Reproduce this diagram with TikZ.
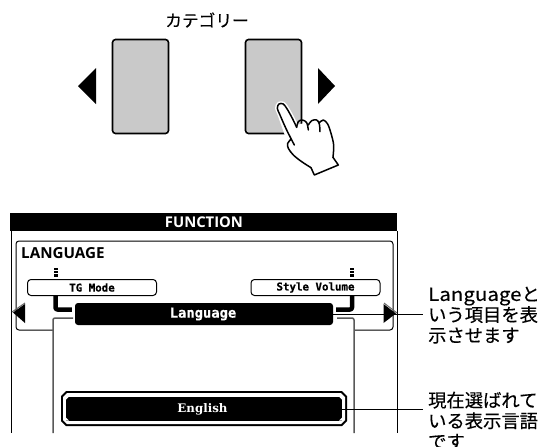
\documentclass[tikz,border=0pt]{standalone}
\usepackage{fontspec}
\setmainfont[FakeBold=0.35]{Noto Sans CJK JP}
\newfontfamily\latinwide[FakeStretch=1.12,FakeBold=0.35]{Noto Sans CJK JP}
\newfontfamily\headfont{Open Sans}
\newfontfamily\lcd[FakeBold=0.4]{DejaVu Sans Mono}
\newfontfamily\lcdserif{DejaVu Serif}
\tikzset{
  keypad/.style={draw=black,line width=1.6pt,fill=black!21,rounded corners=3pt,minimum width=56pt,minimum height=94pt,inner sep=0pt},
  softkey/.style={draw=black,line width=1pt,fill=white,rounded corners=3.5pt,minimum width=129pt,minimum height=16pt,inner sep=0pt,font=\lcd\bfseries\fontsize{10.8}{11}\selectfont},
  thinrule/.style={line width=1pt,draw=black},
  greyrule/.style={line width=1.5pt,draw=black!65},
  note/.style={align=left,anchor=north west,inner sep=0pt,font=\fontsize{18.3}{20.6}\selectfont},
  leader/.style={line width=.8pt,draw=black},
  hook/.style={line width=4.5pt,draw=black,line join=round},
  wtext/.style={text=white,inner sep=0pt}
}
\begin{document}
\begin{tikzpicture}[x=1pt,y=-1pt]
\useasboundingbox (0,0) rectangle (542,447);
\fill[white] (0,0) rectangle (542,447);
% top
\node[inner sep=0pt,font=\fontsize{16.7}{18}\selectfont] (cat) at (207,20) {カテゴリー};
\node[keypad] (kl) at (140.5,86.5) {};
\node[keypad] (kr) at (273.5,86.5) {};
\fill[black] (78,86) -- (96,68) -- (96,104) -- cycle;
\fill[black] (335,86) -- (318,68) -- (318,104) -- cycle;
% hand
\begin{scope}[shift={(255,100)},x=0.3333pt,y=-0.3333pt]
\path[fill=white,draw=white,line width=4.5pt,line join=round]
  plot[smooth,tension=.55] coordinates {(98,110)(75,45)(67,25)(72,12)(85,12)(97,28)(112,55)(125,82)}
  -- (193,65) -- plot[smooth,tension=.5] coordinates {(205,60)(218,72)(228,100)(236,135)(234,172)}
  -- (250,195) -- (178,225) -- plot[smooth,tension=.5] coordinates {(168,203)(140,185)(115,165)(100,145)(98,130)(108,118)} -- cycle;
\begin{scope}[line width=1.5pt,draw=black,line join=round,line cap=round]
\draw plot[smooth,tension=.55] coordinates {(118,135)(95,90)(75,45)(67,25)(72,12)(85,12)(97,28)(112,55)(125,82)};
\draw plot[smooth,tension=.6] coordinates {(125,82)(130,65)(142,60)(155,68)(160,90)};
\draw plot[smooth,tension=.6] coordinates {(160,75)(170,62)(185,60)(193,72)(195,95)};
\draw plot[smooth,tension=.55] coordinates {(193,68)(205,60)(218,72)(228,100)(236,135)(234,172)};
\draw (234,172) -- (250,195) -- (178,225) -- (168,203);
\draw plot[smooth,tension=.55] coordinates {(168,203)(140,185)(115,165)(100,145)(98,130)(108,118)};
\end{scope}
\end{scope}
% screen
\draw[thinrule] (11,231) -- (11,433);
\draw[thinrule] (397,231) -- (397,433);
\node[fill=black,minimum width=387pt,minimum height=18pt,inner sep=0pt] (bar) at (203.5,222) {};
\node[wtext,font=\headfont\bfseries\fontsize{14.8}{16}\selectfont] (fn) at (204,222) {FUNCTION};
\draw[thinrule,rounded corners=3pt] (53,330) -- (16,330) -- (16,241) -- (393,241) -- (393,330) -- (355,330);
\node[inner sep=0pt,anchor=west,font=\headfont\bfseries\fontsize{15.2}{16}\selectfont] (lang) at (21,253) {LANGUAGE};
\fill[black] (54,268) rectangle (58,270);
\fill[black] (54,271) rectangle (58,273);
\fill[black] (54,274) rectangle (58,277);
\fill[black] (350,268) rectangle (354,270);
\fill[black] (350,271) rectangle (354,273);
\fill[black] (350,274) rectangle (354,277);
\node[softkey] (tg) at (92,287.5) {TG Mode};
\node[softkey] (sv) at (315.5,287.5) {Style Volume};
\node[fill=black,rounded corners=3pt,minimum width=258pt,minimum height=22pt,inner sep=0pt] (bar2) at (204,314) {};
\node[wtext,font=\lcd\bfseries\fontsize{13.8}{15}\selectfont] (lt) at (203,314) {Language};
\coordinate (c1) at (55.5,298); \coordinate (c2) at (352,298);
\draw[hook,rounded corners=2pt] (tg.south -| c1) -- (55.5,309.5) -- ([xshift=-3pt]bar2.west |- 0,309.5);
\draw[hook,rounded corners=2pt] (sv.south -| c2) -- (352,309.5) -- ([xshift=3pt]bar2.east |- 0,309.5);
\draw[greyrule,rounded corners=2pt] (53,433) -- (53,318) -- (73,318);
\draw[greyrule,rounded corners=2pt] (354,433) -- (354,318) -- (337,318);
% arrows
\draw[black!60,line width=1pt,line join=round] (12,312) -- (25,303);
\fill[black] (13,312.5) -- (25,304) -- (25,323) -- cycle;
\draw[black!60,line width=1pt,line join=round] (384,303) -- (397,313);
\fill[black] (396,313.5) -- (383.5,304) -- (383.5,323) -- cycle;
% english
\fill[black] (66,391) -- (342,391) -- (347,396) -- (347,421) -- (342,426) -- (66,426) -- (61,421) -- (61,396) -- cycle;
\fill[white] (67,393) -- (341,393) -- (345,397) -- (345,420) -- (341,424) -- (67,424) -- (63,420) -- (63,397) -- cycle;
\node[fill=black,minimum width=276pt,minimum height=24pt,inner sep=0pt] (eng) at (204,408.5) {};
\fill[white] (66,396.5) -- (69,396.5) -- (66,399.5) -- cycle (342,396.5) -- (339,396.5) -- (342,399.5) -- cycle (66,420.5) -- (69,420.5) -- (66,417.5) -- cycle (342,420.5) -- (339,420.5) -- (342,417.5) -- cycle;
\node[wtext,font=\lcdserif\bfseries\fontsize{11.8}{14}\selectfont] (et) at (202.5,409) {English};
% notes
\node[note] (n1) at (428,286.5) {{\latinwide Language}と\\いう項目を表\\示させます};
\node[note] (n2) at (428,391.5) {現在選ばれて\\いる表示言語\\です};
\coordinate (e1) at (423,300);
\coordinate (e2) at (423,400);
\draw[leader] ([xshift=7pt]lt.east) -- (lt.east -| e1);
\draw[leader] ([xshift=7pt]et.east) -- (et.east -| e2);
\end{tikzpicture}
\end{document}
